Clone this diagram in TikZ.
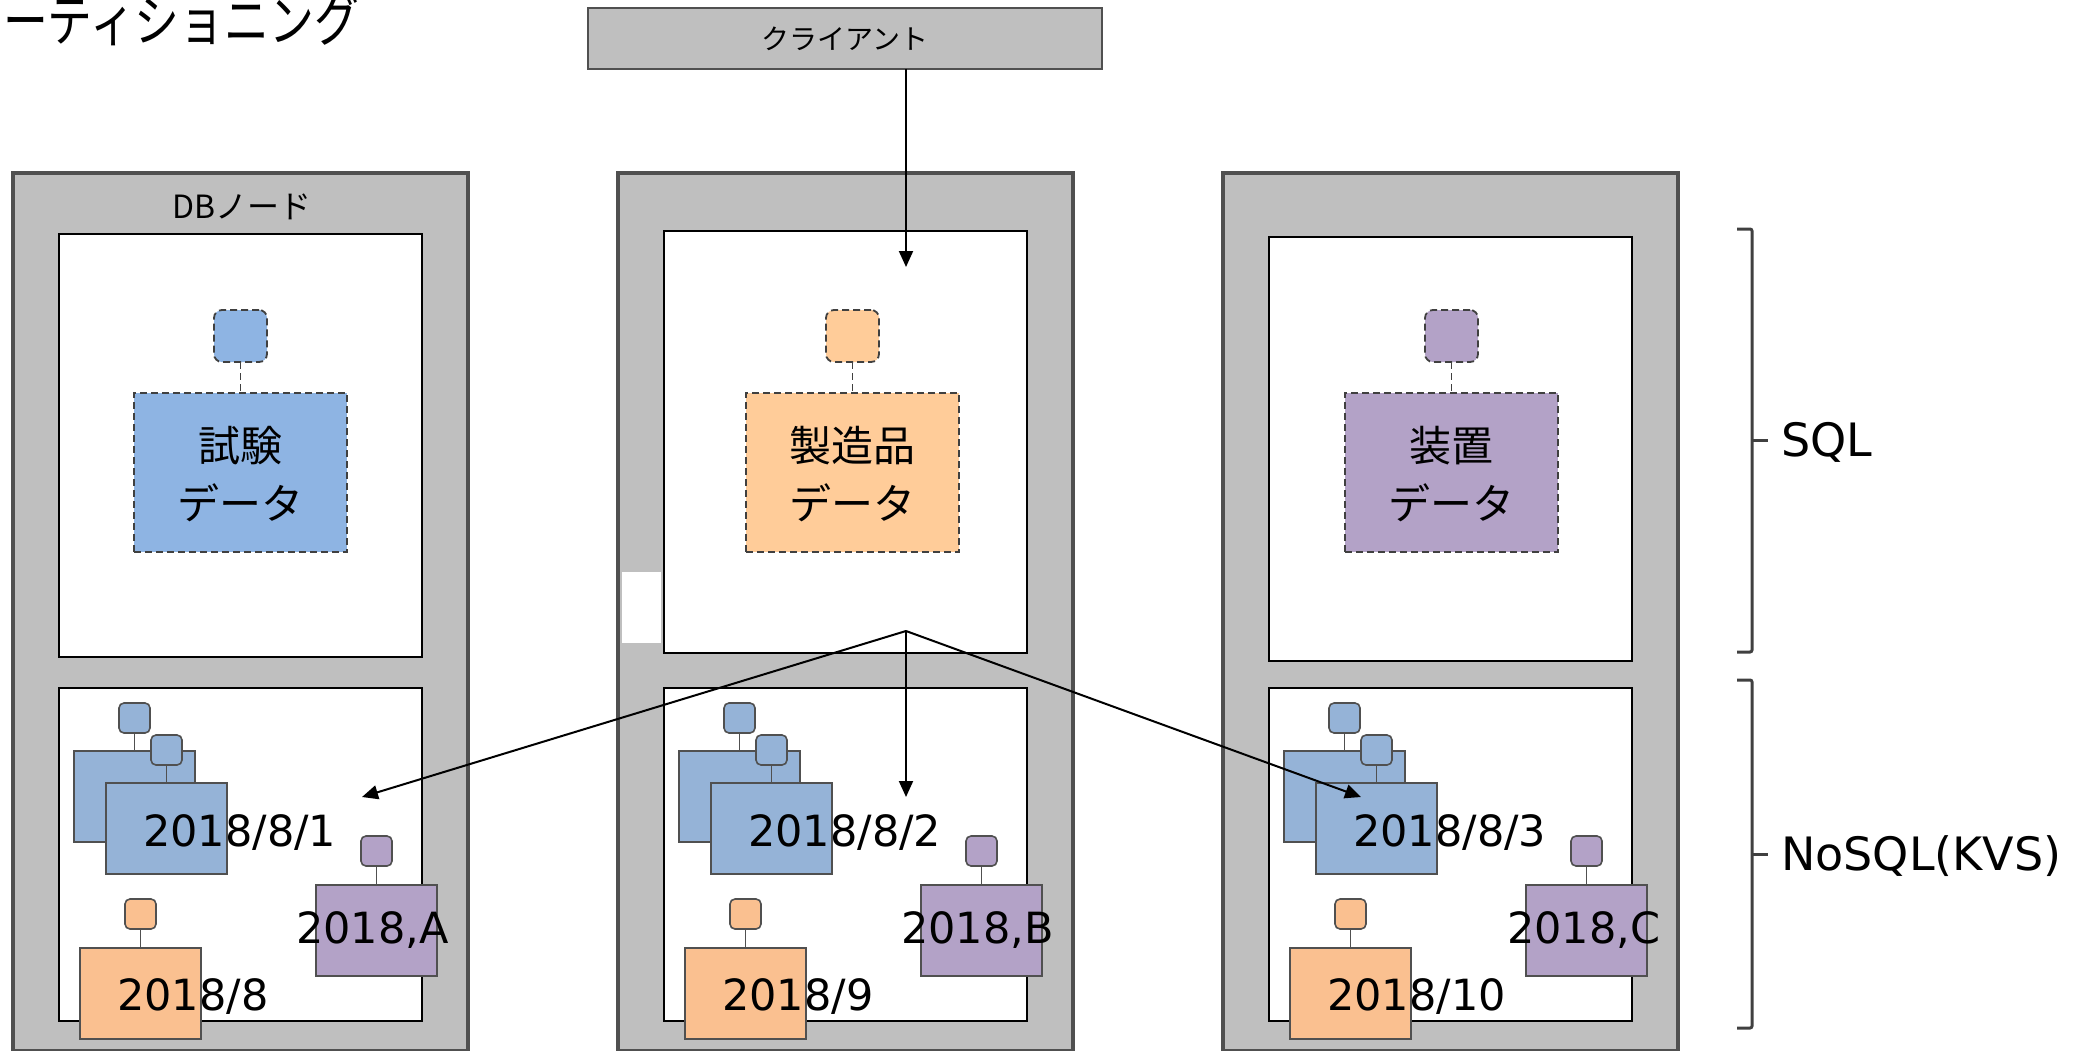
\documentclass[tikz,border=0pt]{standalone}
\usepackage{fontspec}
\setmainfont{DejaVu Sans}
\newfontfamily\jp{Noto Sans CJK JP}
\usetikzlibrary{arrows.meta}
\definecolor{nodegray}{HTML}{BFBFBF}
\definecolor{framegray}{HTML}{505050}
\definecolor{dashgray}{HTML}{404040}
\definecolor{sqlblue}{HTML}{8EB4E3}
\definecolor{kvsblue}{HTML}{95B3D7}
\definecolor{sqlorange}{HTML}{FFCC99}
\definecolor{kvsorange}{HTML}{FAC090}
\definecolor{purp}{HTML}{B3A2C7}
\begin{document}
\begin{tikzpicture}[x=1pt,y=-1pt,
  rect/.style={rectangle, inner sep=0pt, outer sep=0pt, anchor=north west},
  outerbox/.style={rect, fill=nodegray, draw=framegray, line width=3.5pt},
  innerbox/.style={rect, fill=white, draw=black, line width=2pt},
  dashy/.style={draw=dashgray, line width=1.8pt, dash pattern=on 7pt off 4pt},
  sqlkey/.style={rect, dashy, rounded corners=8pt, minimum width=53pt, minimum height=52pt},
  sqldata/.style={rect, dashy, minimum width=213pt, minimum height=159pt},
  kvsbox/.style={rect, draw=framegray, line width=1.6pt, minimum width=121pt, minimum height=91pt},
  kvskey/.style={rect, draw=framegray, line width=1.6pt, rounded corners=5pt, minimum width=31pt, minimum height=30pt},
  link/.style={draw=framegray, line width=1.6pt},
  dlink/.style={dashy},
  kvstext/.style={anchor=base west, inner sep=0pt, font=\fontsize{43}{50}\selectfont},
  arr/.style={line width=2pt, -{Triangle[length=16pt,width=14pt]}},
  brace/.style={draw=dashgray, line width=3pt, rounded corners=2pt}
]
\useasboundingbox (0,0) rectangle (2092,1051);

% title (clipped at the top)
\node[anchor=base west, inner sep=0pt, xscale=0.8, font=\jp\fontsize{56}{56}\selectfont] (title) at (3,42) {ーティショニング};

% client
\node[rect, draw=framegray, fill=nodegray, line width=1.5pt, minimum width=514pt, minimum height=61pt,
      font=\jp\fontsize{28}{28}\selectfont] (client) at (588,8) {クライアント};

\foreach \i/\dx/\sx/\st/\sh/\col/\txt in {0/0/0/234/423/sqlblue/{試験},1/605/612/231/422/sqlorange/{製造品},2/1210/1211/237/424/purp/{装置}}{
  % outer node frame
  \node[outerbox, minimum width=455pt, minimum height=878pt] (outer\i) at ({13+\dx},173) {};
  % SQL area
  \node[innerbox, minimum width=363pt, minimum height=\sh pt] (sql\i) at ({59+\dx},\st) {};
  \node[sqldata, fill=\col] (data\i) at ({134+\sx},393) {};
  \node[sqlkey, fill=\col] (key\i) at ({214+\sx},310) {};
  \draw[dlink] (key\i.south) -- (data\i.north);
  \node[align=center, inner sep=0pt, font=\jp\fontsize{42}{58}\selectfont] (dtext\i) at ({240.5+\sx},474) {\txt\\データ};
  % NoSQL area
  \node[innerbox, minimum width=363pt, minimum height=333pt] (kvs\i) at ({59+\dx},688) {};
  % blue (two stacked)
  \node[kvsbox, fill=kvsblue] (bb\i) at ({74+\dx},751) {};
  \node[kvskey, fill=kvsblue] (bbk\i) at ({119+\dx},703) {};
  \draw[link] (bbk\i.south) -- (bb\i.north);
  \node[kvsbox, fill=kvsblue] (bf\i) at ({106+\dx},783) {};
  \node[kvskey, fill=kvsblue] (bfk\i) at ({151+\dx},735) {};
  \draw[link] (bfk\i.south) -- (bf\i.north);
  % purple
  \node[kvsbox, fill=purp] (pb\i) at ({316+\dx},885) {};
  \node[kvskey, fill=purp] (pbk\i) at ({361+\dx},836) {};
  \draw[link] (pbk\i.south) -- (pb\i.north);
  % orange
  \node[kvsbox, fill=kvsorange] (ob\i) at ({80+\dx},948) {};
  \node[kvskey, fill=kvsorange] (obk\i) at ({125+\dx},899) {};
  \draw[link] (obk\i.south) -- (ob\i.north);
}

% white notch on the middle frame
\fill[white] (622,572) rectangle (661,643);

% KVS texts
\node[kvstext] (d1) at (143,846) {2018/8/1};
\node[kvstext] (a1) at (296,943) {2018,A};
\node[kvstext] (m1) at (117,1010) {2018/8};
\node[kvstext] (d2) at (748,846) {2018/8/2};
\node[kvstext] (a2) at (901,943) {2018,B};
\node[kvstext] (m2) at (722,1010) {2018/9};
\node[kvstext] (d3) at (1353,846) {2018/8/3};
\node[kvstext] (a3) at (1507,943) {2018,C};
\node[kvstext] (m3) at (1327,1010) {2018/10};

% DB node label
\node[inner sep=0pt, font=\jp\fontsize{32}{32}\selectfont] (dblabel) at (242,207) {DBノード};

% arrows
\coordinate (entry) at (906,267);
\coordinate (hub) at (906,631);
\coordinate (tipL) at (362,797);
\coordinate (tipM) at (906,797);
\coordinate (tipR) at (1361,797);
\draw[arr] (client.south -| entry) -- (entry);
\draw[arr] (hub) -- (tipL);
\draw[arr] (hub) -- (tipM);
\draw[arr] (hub) -- (tipR);

% brackets
\draw[brace] (1737,229) -- (1752,229) -- (1752,652) -- (1737,652);
\draw[brace] (1752,440) -- (1768,440);
\draw[brace] (1737,680) -- (1752,680) -- (1752,1028) -- (1737,1028);
\draw[brace] (1752,854) -- (1768,854);
\node[anchor=west, inner sep=0pt, font=\fontsize{46}{50}\selectfont] (sqllabel) at (1781,442) {SQL};
\node[anchor=west, inner sep=0pt, font=\fontsize{46}{50}\selectfont] (kvslabel) at (1781,856) {NoSQL(KVS)};
\end{tikzpicture}
\end{document}
